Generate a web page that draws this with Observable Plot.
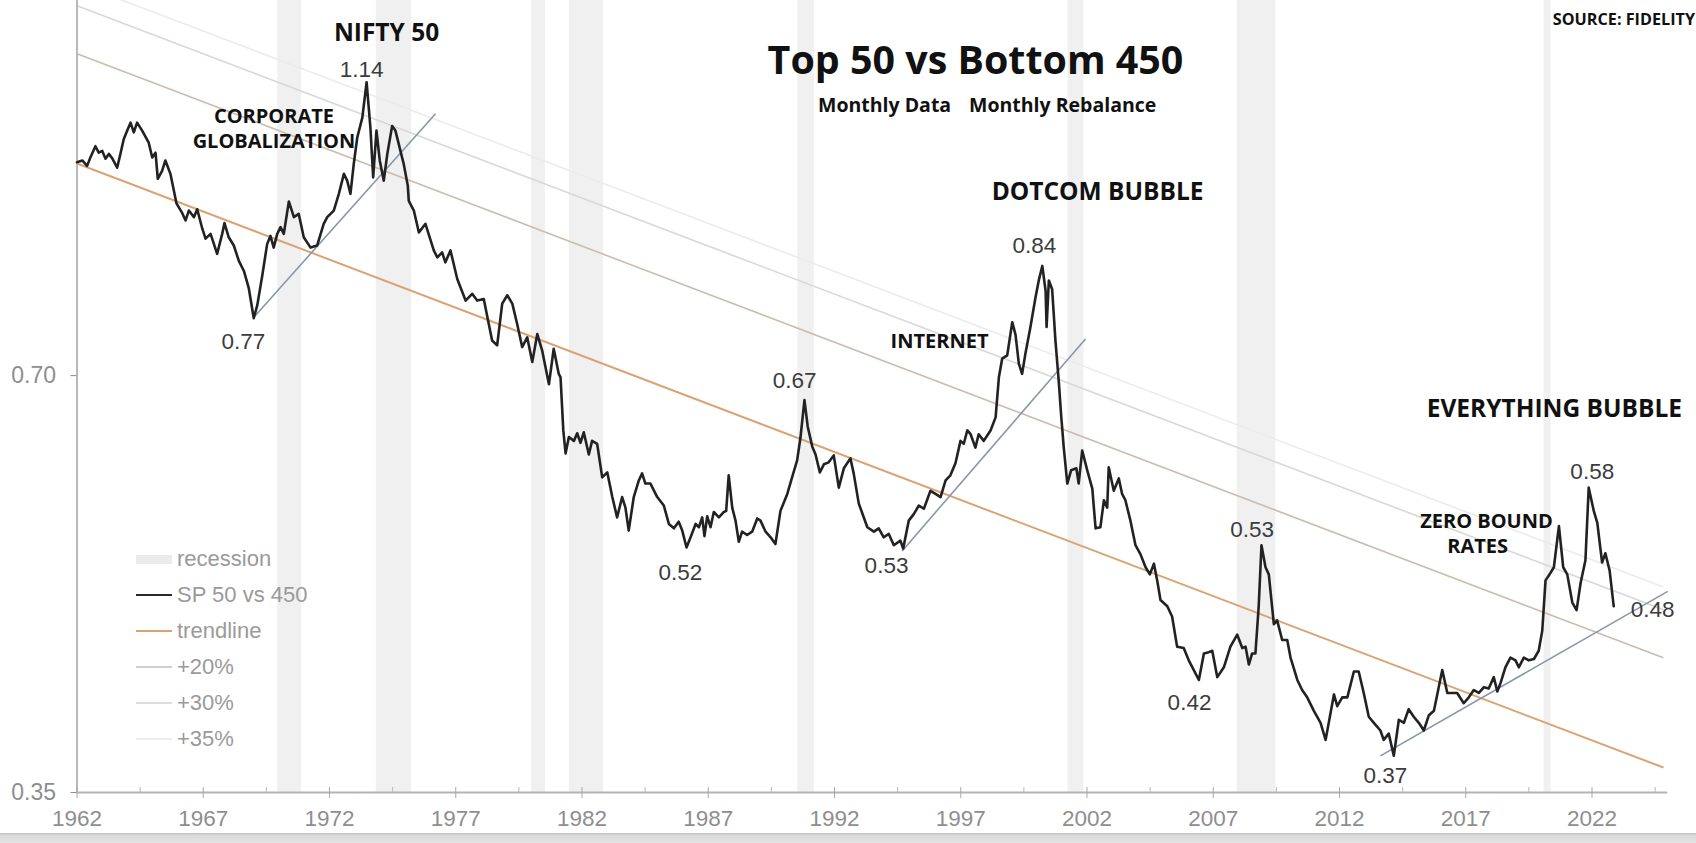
<!DOCTYPE html>
<html><head><meta charset="utf-8">
<script src="https://cdn.jsdelivr.net/npm/d3@7"></script>
<script src="https://cdn.jsdelivr.net/npm/@observablehq/plot@0.6"></script>
<style>
body{margin:0;background:#fff;}
#wrap{position:relative;width:1696px;height:843px;overflow:hidden;background:#fff;}
#wrap svg{position:absolute;left:0;top:0;}
.ov{position:absolute;white-space:nowrap;line-height:1;font-family:"Open Sans",sans-serif;font-weight:700;color:#111;}
.leg{position:absolute;left:136px;height:36px;display:flex;align-items:center;font-family:"Liberation Sans",Arial,sans-serif;font-size:22px;color:#9a9a9a;}
.sw{width:36px;margin-right:5px;}
#strip{position:absolute;left:0;top:833px;width:1696px;height:10px;background:linear-gradient(#bcbcbc 0,#d8d8d8 2px,#e4e4e4 100%);}
</style>
</head><body>
<div id="wrap"></div>
<script>
// ---------- data ----------
const titleText = "Top 50 vs Bottom 450";
const subtitleParts = ["Monthly Data", "Monthly Rebalance"];
const sourceText = "SOURCE: FIDELITY";

const xTickYears = [1962, 1967, 1972, 1977, 1982, 1987, 1992, 1997, 2002, 2007, 2012, 2017, 2022];
const xMinorYears = [1964.5, 1969.5, 1974.5, 1979.5, 1984.5, 1989.5, 1994.5, 1999.5, 2004.5, 2009.5, 2014.5, 2019.5, 2024.5];
const yTickValues = [0.35, 0.70];

const recessions = [
  [1969.95, 1970.9], [1973.85, 1975.25], [1980.0, 1980.55], [1981.5, 1982.85],
  [1990.55, 1991.2], [2001.25, 2001.88], [2007.95, 2009.48], [2020.1, 2020.38]
];

// SP 50 vs 450 ratio  [year, value]
const sp50vs450 = [
[1962.00,0.998],[1962.21,1.001],[1962.40,0.992],[1962.53,1.006],[1962.73,1.025],[1962.86,1.014],[1963.00,1.017],[1963.13,1.004],[1963.26,1.012],[1963.39,1.005],[1963.59,0.989],[1963.72,1.012],[1963.85,1.037],[1963.99,1.052],[1964.12,1.066],[1964.25,1.049],[1964.38,1.066],[1964.58,1.052],[1964.84,1.031],[1964.98,1.006],[1965.11,1.014],[1965.20,0.971],[1965.37,0.984],[1965.50,1.001],[1965.70,0.979],[1965.94,0.932],[1966.17,0.917],[1966.30,0.906],[1966.43,0.921],[1966.63,0.911],[1966.76,0.923],[1966.96,0.894],[1967.09,0.879],[1967.29,0.886],[1967.55,0.857],[1967.75,0.886],[1967.84,0.902],[1968.01,0.881],[1968.21,0.869],[1968.41,0.847],[1968.61,0.833],[1968.80,0.810],[1969.00,0.770],[1969.14,0.787],[1969.33,0.825],[1969.53,0.871],[1969.66,0.883],[1969.79,0.866],[1969.93,0.886],[1970.06,0.896],[1970.19,0.886],[1970.39,0.935],[1970.59,0.911],[1970.78,0.916],[1970.98,0.881],[1971.25,0.866],[1971.51,0.869],[1971.77,0.901],[1971.91,0.911],[1972.17,0.921],[1972.37,0.947],[1972.57,0.979],[1972.70,0.968],[1972.83,0.947],[1972.96,0.995],[1973.10,1.040],[1973.30,1.075],[1973.47,1.140],[1973.62,1.057],[1973.73,0.973],[1973.86,1.052],[1973.99,1.001],[1974.15,0.968],[1974.29,1.012],[1974.48,1.060],[1974.61,1.052],[1974.81,1.017],[1974.94,0.995],[1975.10,0.960],[1975.14,0.936],[1975.34,0.921],[1975.54,0.888],[1975.80,0.901],[1976.13,0.862],[1976.27,0.852],[1976.46,0.859],[1976.59,0.845],[1976.79,0.862],[1977.06,0.822],[1977.39,0.793],[1977.65,0.802],[1977.85,0.793],[1978.11,0.795],[1978.25,0.772],[1978.44,0.742],[1978.64,0.736],[1978.84,0.789],[1979.04,0.800],[1979.24,0.789],[1979.43,0.763],[1979.63,0.734],[1979.83,0.746],[1980.03,0.716],[1980.23,0.750],[1980.42,0.730],[1980.69,0.690],[1980.88,0.732],[1981.08,0.702],[1981.15,0.698],[1981.26,0.639],[1981.35,0.615],[1981.48,0.632],[1981.68,0.628],[1981.81,0.636],[1981.94,0.626],[1982.07,0.637],[1982.27,0.614],[1982.40,0.628],[1982.60,0.625],[1982.80,0.591],[1983.00,0.596],[1983.20,0.572],[1983.39,0.553],[1983.59,0.572],[1983.72,0.562],[1983.85,0.541],[1984.05,0.572],[1984.25,0.588],[1984.38,0.595],[1984.51,0.585],[1984.71,0.585],[1984.98,0.572],[1985.24,0.564],[1985.44,0.547],[1985.64,0.543],[1985.83,0.549],[1985.97,0.541],[1986.14,0.526],[1986.30,0.535],[1986.50,0.547],[1986.63,0.544],[1986.76,0.553],[1986.85,0.536],[1986.96,0.554],[1987.09,0.544],[1987.22,0.558],[1987.42,0.553],[1987.62,0.558],[1987.71,0.559],[1987.81,0.593],[1987.95,0.562],[1988.08,0.550],[1988.21,0.531],[1988.34,0.540],[1988.54,0.537],[1988.74,0.540],[1988.94,0.552],[1989.07,0.550],[1989.27,0.540],[1989.47,0.535],[1989.66,0.529],[1989.86,0.559],[1990.13,0.575],[1990.32,0.591],[1990.52,0.608],[1990.65,0.631],[1990.81,0.672],[1990.94,0.643],[1991.12,0.622],[1991.25,0.614],[1991.42,0.596],[1991.58,0.604],[1991.77,0.606],[1991.97,0.613],[1992.17,0.581],[1992.37,0.600],[1992.63,0.610],[1992.76,0.595],[1992.96,0.566],[1993.30,0.544],[1993.56,0.540],[1993.75,0.543],[1993.95,0.535],[1994.15,0.538],[1994.35,0.528],[1994.61,0.532],[1994.72,0.525],[1994.94,0.550],[1995.14,0.556],[1995.34,0.564],[1995.54,0.561],[1995.80,0.578],[1996.00,0.575],[1996.20,0.572],[1996.40,0.588],[1996.59,0.593],[1996.79,0.605],[1996.99,0.628],[1997.12,0.625],[1997.26,0.639],[1997.39,0.635],[1997.58,0.621],[1997.71,0.635],[1997.91,0.628],[1998.18,0.639],[1998.38,0.653],[1998.51,0.698],[1998.64,0.720],[1998.84,0.724],[1999.04,0.765],[1999.17,0.749],[1999.30,0.714],[1999.43,0.702],[1999.56,0.726],[1999.76,0.759],[1999.96,0.797],[2000.09,0.820],[2000.23,0.840],[2000.36,0.806],[2000.40,0.759],[2000.49,0.820],[2000.62,0.808],[2000.75,0.742],[2000.88,0.694],[2000.98,0.654],[2001.08,0.621],[2001.22,0.585],[2001.37,0.598],[2001.58,0.600],[2001.67,0.585],[2001.81,0.618],[2002.01,0.598],[2002.21,0.580],[2002.34,0.543],[2002.53,0.544],[2002.67,0.569],[2002.80,0.562],[2002.86,0.601],[2003.06,0.578],[2003.26,0.590],[2003.39,0.575],[2003.52,0.569],[2003.72,0.550],[2003.92,0.528],[2004.12,0.520],[2004.32,0.509],[2004.49,0.503],[2004.65,0.512],[2004.78,0.498],[2004.91,0.482],[2005.18,0.477],[2005.37,0.469],[2005.57,0.446],[2005.83,0.445],[2006.03,0.436],[2006.23,0.429],[2006.43,0.422],[2006.63,0.441],[2006.82,0.442],[2006.96,0.443],[2007.16,0.424],[2007.42,0.431],[2007.68,0.446],[2007.95,0.455],[2008.15,0.445],[2008.28,0.446],[2008.41,0.433],[2008.54,0.441],[2008.67,0.441],[2008.80,0.477],[2008.91,0.528],[2009.07,0.509],[2009.20,0.503],[2009.40,0.463],[2009.53,0.466],[2009.73,0.451],[2009.93,0.451],[2010.06,0.438],[2010.33,0.422],[2010.52,0.415],[2010.72,0.410],[2010.98,0.401],[2011.25,0.393],[2011.45,0.382],[2011.64,0.399],[2011.78,0.412],[2011.91,0.404],[2012.11,0.410],[2012.31,0.410],[2012.57,0.428],[2012.76,0.428],[2012.96,0.413],[2013.16,0.397],[2013.36,0.393],[2013.62,0.388],[2013.75,0.382],[2013.95,0.386],[2014.15,0.372],[2014.35,0.395],[2014.55,0.393],[2014.74,0.402],[2014.94,0.397],[2015.14,0.393],[2015.34,0.388],[2015.54,0.398],[2015.74,0.401],[2015.93,0.417],[2016.07,0.429],[2016.27,0.413],[2016.46,0.413],[2016.66,0.413],[2016.92,0.406],[2017.12,0.410],[2017.32,0.415],[2017.52,0.413],[2017.72,0.417],[2017.91,0.416],[2018.11,0.424],[2018.25,0.414],[2018.38,0.420],[2018.57,0.431],[2018.77,0.438],[2018.97,0.436],[2019.10,0.431],[2019.30,0.438],[2019.50,0.436],[2019.70,0.437],[2019.89,0.443],[2020.03,0.458],[2020.16,0.498],[2020.29,0.502],[2020.49,0.509],[2020.69,0.545],[2020.86,0.509],[2021.02,0.503],[2021.22,0.480],[2021.39,0.474],[2021.55,0.496],[2021.74,0.515],[2021.87,0.581],[2022.07,0.559],[2022.21,0.548],[2022.40,0.513],[2022.53,0.521],[2022.70,0.506],[2022.86,0.477]
];

// log trendline endpoints [year, value]
const trendline = [[1962.0, 0.996], [2024.8, 0.365]];
// parallel channels above the trendline
const channelPcts = [20, 30, 35];

// hand-drawn support lines [x1, y1, x2, y2]
const supportLines = [
  [1969.05, 0.773, 1976.2, 1.082],
  [1994.68, 0.523, 2001.94, 0.744],
  [2013.62, 0.372, 2025.0, 0.489]
];

// value labels [text, year, value]
const valueLabels = [
  ["1.14", 1973.27, 1.163], ["0.77", 1968.59, 0.741], ["0.67", 1990.42, 0.694],
  ["0.52", 1985.90, 0.504], ["0.53", 1994.06, 0.5105], ["0.84", 1999.92, 0.869],
  ["0.42", 2006.06, 0.406], ["0.53", 2008.54, 0.542], ["0.37", 2013.82, 0.360],
  ["0.58", 2022.01, 0.597], ["0.48", 2024.40, 0.474]
];

// captions [text, year, value]
const bigCaptions = [
  ["NIFTY 50", 1974.26, 1.238], ["DOTCOM BUBBLE", 2002.42, 0.949], ["EVERYTHING BUBBLE", 2020.51, 0.6615]
];
const smallCaptions = [
  ["CORPORATE", 1969.80, 1.077], ["GLOBALIZATION", 1969.80, 1.033], ["INTERNET", 1996.16, 0.741],
  ["ZERO BOUND", 2017.82, 0.549], ["RATES", 2017.47, 0.527]
];

const legendLabels = ["recession", "SP 50 vs 450", "trendline", "+20%", "+30%", "+35%"];

// ---------- styles ----------
const channelColors = {20: "#cbbcad", 30: "#d8d8d8", 35: "#ebebeb"};
const trendColor = "#d9a472";
const seriesColor = "#222222";
const supportColor = "#8a96aa";

const channels = channelPcts.flatMap(p => trendline.map(([x, y]) => ({pct: p, x, y: y * (1 + p / 100)})));

const chart = Plot.plot({
  width: 1696, height: 843,
  marginLeft: 76.5, marginRight: 28.75, marginTop: 0, marginBottom: 51,
  x: {domain: [1962, 2025]},
  y: {type: "log", domain: [0.35, 1.306]},
  style: {fontFamily: "'Liberation Sans', Arial, sans-serif", background: "transparent", overflow: "visible"},
  marks: [
    Plot.rect(recessions, {x1: d => d[0], x2: d => d[1], fill: "#f0f0f0"}),
    Plot.line(channels, {x: "x", y: "y", z: "pct", stroke: d => channelColors[d.pct], strokeWidth: 1.6}),
    Plot.line(trendline, {x: d => d[0], y: d => d[1], stroke: trendColor, strokeWidth: 2}),
    Plot.ruleX([1962], {stroke: "#b9b9b9", strokeWidth: 2}),
    Plot.ruleY([0.35], {stroke: "#b4b4b4", strokeWidth: 2}),
    Plot.axisY(yTickValues, {tickSize: 6, tickPadding: 15, tickFormat: d => d.toFixed(2), fontSize: 23, color: "#8e8e8e", label: null}),
    Plot.axisX(xTickYears, {tickSize: 11, dy: -5, tickFormat: () => "", color: "#a8a8a8", label: null}),
    Plot.axisX(xMinorYears, {tickSize: 5, dy: -5, tickFormat: () => "", color: "#b8b8b8", label: null}),
    Plot.axisX(xTickYears, {tickSize: 0, tickPadding: 18, tickFormat: d => String(d), fontSize: 22.5, color: "#8e8e8e", label: null}),
    Plot.link(supportLines, {x1: d => d[0], y1: d => d[1], x2: d => d[2], y2: d => d[3], stroke: supportColor, strokeWidth: 1.6}),
    Plot.line(sp50vs450, {x: d => d[0], y: d => d[1], stroke: seriesColor, strokeWidth: 2.6, strokeLinejoin: "round"}),
    Plot.text(valueLabels, {x: d => d[1], y: d => d[2], text: d => d[0], fontSize: 22.5, fill: "#3c3c3c"}),
    Plot.text(bigCaptions, {x: d => d[1], y: d => d[2], text: d => d[0], fontSize: 24.5, fontWeight: "bold", fontFamily: "'Open Sans', sans-serif", fill: "#111"}),
    Plot.text(smallCaptions, {x: d => d[1], y: d => d[2], text: d => d[0], fontSize: 20, fontWeight: "bold", fontFamily: "'Open Sans', sans-serif", fill: "#111"})
  ]
});

const wrap = document.getElementById("wrap");
wrap.appendChild(chart);

function addText(txt, css) {
  const d = document.createElement("div");
  d.className = "ov";
  d.textContent = txt;
  Object.assign(d.style, css);
  wrap.appendChild(d);
  return d;
}
// title
addText(titleText, {fontSize: "39.4px", left: "975.5px", top: "40px", transform: "translateX(-50%)"});
// subtitle
addText(subtitleParts[0], {fontSize: "19.5px", left: "818px", top: "94.6px"});
addText(subtitleParts[1], {fontSize: "19.5px", left: "969px", top: "94.6px"});
// source
addText(sourceText, {fontSize: "16.2px", right: "1px", top: "11px"});

// legend
const legendCenters = [559, 595, 631, 667, 703, 739];
const legendSw = [
  `<div class="sw" style="height:9px;background:#ebebeb"></div>`,
  `<div class="sw" style="height:2.5px;background:#2a2a2a"></div>`,
  `<div class="sw" style="height:2.5px;background:${trendColor}"></div>`,
  `<div class="sw" style="height:2px;background:#cfcfcf"></div>`,
  `<div class="sw" style="height:2px;background:#dcdcdc"></div>`,
  `<div class="sw" style="height:2px;background:#ececec"></div>`
];
legendLabels.forEach((lab, i) => {
  const row = document.createElement("div");
  row.className = "leg";
  row.style.top = (legendCenters[i] - 18) + "px";
  row.innerHTML = legendSw[i] + `<span>${lab}</span>`;
  wrap.appendChild(row);
});
const strip = document.createElement("div");
strip.id = "strip";
wrap.appendChild(strip);
</script>
</body></html>
